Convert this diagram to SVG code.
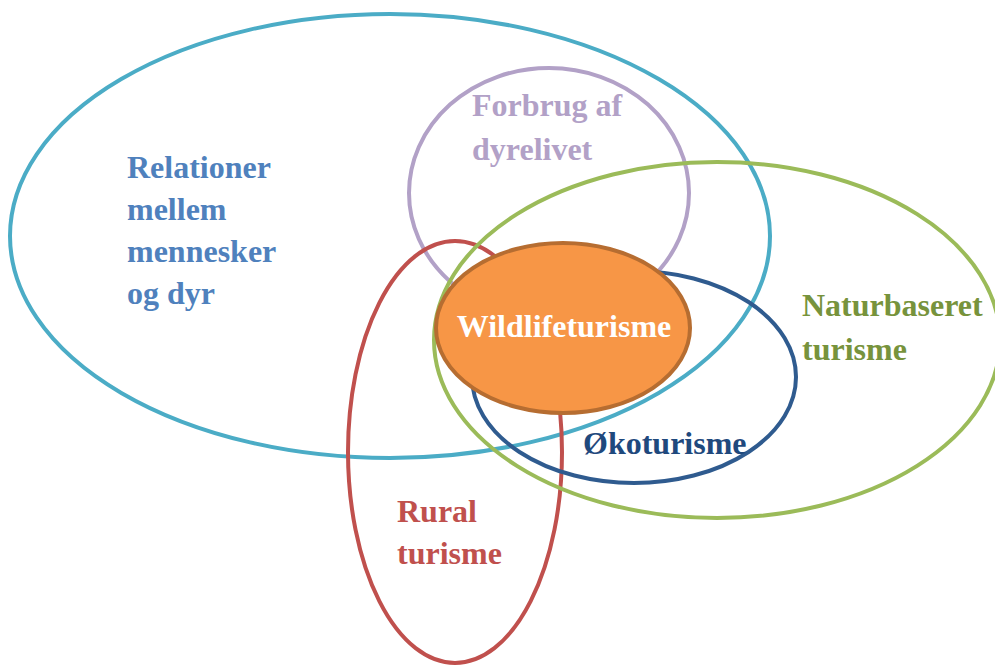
<svg xmlns="http://www.w3.org/2000/svg" width="995" height="665" viewBox="0 0 995 665">
<style>
.e{fill:none;stroke-width:4}
.t{font-family:"Liberation Serif","Times New Roman",serif;font-weight:bold;font-size:32px}
</style>
<rect width="995" height="665" fill="#fff"/>
<g id="relationer">
<ellipse class="e" cx="390" cy="236" rx="380" ry="222" stroke="#4BACC6"/>
<text class="t" fill="#4F81BD"><tspan x="127" y="178">Relationer</tspan><tspan x="127" y="220">mellem</tspan><tspan x="127" y="262">mennesker</tspan><tspan x="127" y="304">og dyr</tspan></text>
</g>
<g id="forbrug">
<ellipse class="e" cx="549" cy="193" rx="140" ry="125" stroke="#B2A1C7"/>
<text class="t" fill="#B2A1C7"><tspan x="472" y="116">Forbrug af</tspan><tspan x="472" y="160">dyrelivet</tspan></text>
</g>
<g id="rural">
<ellipse class="e" cx="455" cy="452" rx="107" ry="211" stroke="#C0504D"/>
<text class="t" fill="#C0504D"><tspan x="397" y="522">Rural</tspan><tspan x="397" y="564">turisme</tspan></text>
</g>
<g id="naturbaseret">
<ellipse class="e" cx="717" cy="340" rx="283" ry="178" stroke="#9BBB59"/>
<text class="t" fill="#77933C"><tspan x="802" y="316">Naturbaseret</tspan><tspan x="802" y="360">turisme</tspan></text>
</g>
<g id="okoturisme">
<ellipse class="e" cx="634" cy="377" rx="162" ry="106" stroke="#2F5B8F"/>
</g>
<g id="wildlife">
<ellipse cx="563" cy="328" rx="127" ry="85" fill="#F79646" stroke="#B66D31" stroke-width="4"/>
<text class="t" fill="#fff" x="564" y="337" text-anchor="middle">Wildlifeturisme</text>
</g>
<text class="t" fill="#1F497D" x="583" y="454">Økoturisme</text>
<g id="connectors"/>
</svg>
